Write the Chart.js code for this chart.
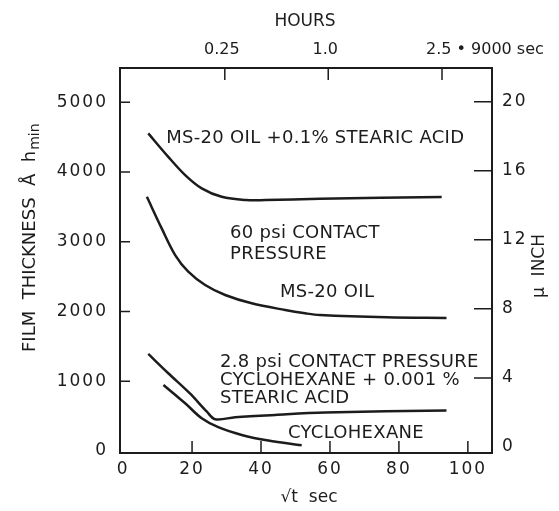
<!DOCTYPE html>
<html>
<head>
<meta charset="utf-8">
<script src="https://cdn.jsdelivr.net/npm/chart.js@4.4.1/dist/chart.umd.min.js"></script>
<style>
  body { margin: 0; background: #fff; }
  canvas { display: block; }
</style>
</head>
<body>
<canvas id="myChart" width="559" height="511"></canvas>
<script>
// axis ticks
var xTicks = [0, 20, 40, 60, 80, 100];
var thicknessTicks = [0, 1000, 2000, 3000, 4000, 5000];
var microinchTicks = [0, 4, 8, 12, 16, 20];
var hourLabels = ['0.25', '1.0', '2.5 \u2022 9000 sec'];
var hourTickPos = [29.5, 59.5, 92.5]; // where the hour marks sit on the sqrt(t) scale

// curves, sqrt(t) sec vs film thickness (A)
var stearicOilX = [7.3, 13.1, 18.0, 22.8, 28.6, 35.7, 41.2, 57.1, 92.4];
var stearicOilY = [4552, 4216, 3954, 3764, 3643, 3596, 3596, 3615, 3640];
var oilX = [6.9, 11.2, 15.1, 18.9, 23.8, 29.6, 37.3, 47, 52.8, 57.1, 76.4, 93.8];
var oilY = [3643, 3190, 2808, 2569, 2378, 2235, 2116, 2020, 1973, 1948, 1915, 1906];
var stearicCycloX = [7.3, 13.1, 19.3, 24.3, 26.7, 32.5, 44.1, 58.6, 93.8];
var stearicCycloY = [1390, 1113, 827, 563, 454, 483, 516, 549, 581];
var cycloX = [11.7, 18, 22.8, 27.6, 34.4, 42.1, 51.8];
var cycloY = [946, 683, 468, 340, 229, 148, 80];

var notes = [
  { text: 'MS-20 OIL +0.1% STEARIC ACID', x: 12.5, y: 4484 },
  { text: '60 psi CONTACT', x: 31, y: 3123 },
  { text: 'PRESSURE', x: 31, y: 2822 },
  { text: 'MS-20 OIL', x: 45.5, y: 2278 },
  { text: '2.8 psi CONTACT PRESSURE', x: 28.1, y: 1275 },
  { text: 'CYCLOHEXANE + 0.001 %', x: 28.1, y: 1017 },
  { text: 'STEARIC ACID', x: 28.1, y: 759 },
  { text: 'CYCLOHEXANE', x: 47.8, y: 258 }
];

var ink = '#1c1c1c';
var face = 'DejaVu Sans';

function pts(xs, ys) {
  return xs.map(function (x, i) { return { x: x, y: ys[i] }; });
}
function curve(xs, ys) {
  return {
    data: pts(xs, ys),
    borderColor: ink,
    borderWidth: 2.5,
    pointRadius: 0,
    fill: false,
    tension: 0.35,
    xAxisID: 'x',
    yAxisID: 'y'
  };
}
function fixedTicks(list) {
  return function (s) { s.ticks = list.map(function (v) { return { value: v }; }); };
}
function plain(v) { return String(v); }

var extras = {
  id: 'extras',
  beforeDraw: function (chart) {
    chart.ctx.letterSpacing = '2px';
  },
  afterDraw: function (chart) {
    var ctx = chart.ctx, a = chart.chartArea, sc = chart.scales;
    ctx.save();
    ctx.letterSpacing = '0px';
    ctx.strokeStyle = ink;
    ctx.lineWidth = 1.5;
    ctx.beginPath();
    xTicks.forEach(function (v) {
      if (!v) return;
      var px = sc.x.getPixelForValue(v);
      ctx.moveTo(px, a.bottom); ctx.lineTo(px, a.bottom - 12);
    });
    thicknessTicks.forEach(function (v) {
      if (!v) return;
      var py = sc.y.getPixelForValue(v);
      ctx.moveTo(a.left, py); ctx.lineTo(a.left + 10, py);
    });
    microinchTicks.forEach(function (v) {
      if (!v) return;
      var py = sc.y2.getPixelForValue(v);
      ctx.moveTo(a.right, py); ctx.lineTo(a.right - 18, py);
    });
    hourTickPos.forEach(function (v) {
      var px = sc.x2.getPixelForValue(v);
      ctx.moveTo(px, a.top); ctx.lineTo(px, a.top + 12);
    });
    ctx.stroke();

    ctx.fillStyle = ink;
    ctx.textBaseline = 'middle';
    // top (hours) labels
    ctx.font = '16px "' + face + '"';
    hourLabels.forEach(function (t, i) {
      var last = i === hourLabels.length - 1;
      var px = sc.x2.getPixelForValue(hourTickPos[i]);
      ctx.textAlign = last ? 'left' : 'center';
      ctx.fillText(t, last ? px - 16 : px - 3, a.top - 18);
    });
    // axis titles
    ctx.font = '17px "' + face + '"';
    ctx.textAlign = 'center';
    ctx.fillText('HOURS', 305, 22);
    ctx.fillText('\u221At  sec', 309, 498);

    ctx.save();
    ctx.translate(540, 266);
    ctx.rotate(-Math.PI / 2);
    ctx.fillText('\u00B5  INCH', 0, 0);
    ctx.restore();

    ctx.save();
    ctx.translate(30, 352);
    ctx.rotate(-Math.PI / 2);
    ctx.textAlign = 'left';
    ctx.font = '18px "' + face + '"';
    var main = 'FILM  THICKNESS  \u00C5  h';
    ctx.fillText(main, 0, 0);
    var w = ctx.measureText(main).width;
    ctx.font = '14px "' + face + '"';
    ctx.fillText('min', w + 1, 5);
    ctx.restore();

    // labels inside the plot
    ctx.font = '18px "' + face + '"';
    ctx.letterSpacing = '0.3px';
    ctx.textAlign = 'left';
    notes.forEach(function (n) {
      ctx.fillText(n.text, sc.x.getPixelForValue(n.x), sc.y.getPixelForValue(n.y));
    });
    ctx.restore();
  }
};

var tickFont = { family: face, size: 17 };
var edge = { display: true, color: ink, width: 2 };

var ctx = document.getElementById('myChart');
var filmChart = new Chart(ctx, {
  type: 'line',
  data: {
    datasets: [
      curve(stearicOilX, stearicOilY),
      curve(oilX, oilY),
      curve(stearicCycloX, stearicCycloY),
      curve(cycloX, cycloY)
    ]
  },
  options: {
    responsive: false,
    animation: false,
    devicePixelRatio: 1,
    layout: { padding: 0 },
    plugins: { legend: { display: false }, tooltip: { enabled: false } },
    scales: {
      x: {
        type: 'linear', position: 'bottom', min: -0.9, max: 107,
        afterBuildTicks: fixedTicks(xTicks),
        afterFit: function (s) { s.height = 58; },
        ticks: { font: tickFont, color: ink, padding: 6, maxRotation: 0, callback: plain },
        grid: { display: false, drawTicks: false },
        border: edge
      },
      x2: {
        type: 'linear', position: 'top', min: -0.9, max: 107,
        afterFit: function (s) { s.height = 68; },
        ticks: { display: false },
        grid: { display: false, drawTicks: false },
        border: edge
      },
      y: {
        type: 'linear', position: 'left', min: -30, max: 5490,
        afterBuildTicks: fixedTicks(thicknessTicks),
        afterFit: function (s) { s.width = 120; },
        ticks: { font: tickFont, color: ink, padding: 12, callback: plain },
        grid: { display: false, drawTicks: false },
        border: edge
      },
      y2: {
        type: 'linear', position: 'right', min: -0.35, max: 21.95,
        afterBuildTicks: fixedTicks(microinchTicks),
        afterFit: function (s) { s.width = 67; },
        ticks: { font: tickFont, color: ink, padding: 10, callback: plain },
        grid: { display: false, drawTicks: false },
        border: edge
      }
    }
  },
  plugins: [extras]
});
</script>
</body>
</html>
